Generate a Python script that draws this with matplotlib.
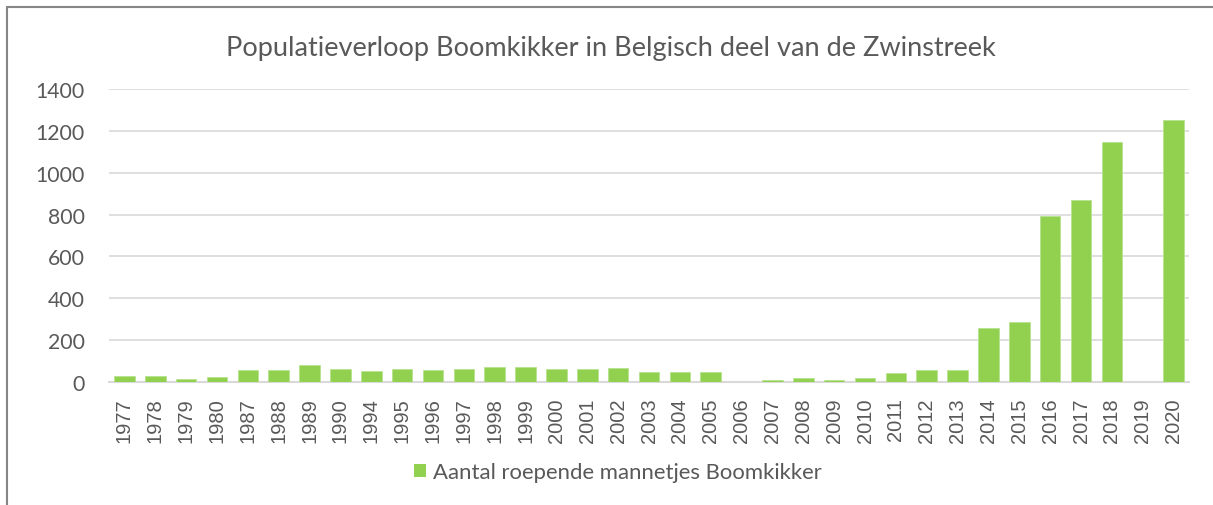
import matplotlib
matplotlib.use('Agg')

import matplotlib.pyplot as plt
import numpy as np
from matplotlib.patches import Rectangle, Patch

# data
years = ['1977', '1978', '1979', '1980', '1987', '1988', '1989', '1990',
         '1994', '1995', '1996', '1997', '1998', '1999', '2000', '2001',
         '2002', '2003', '2004', '2005', '2006', '2007', '2008', '2009',
         '2010', '2011', '2012', '2013', '2014', '2015', '2016', '2017',
         '2018', '2019', '2020']
males = [30, 30, 13, 22, 58, 58, 82, 64,
         53, 62, 59, 64, 70, 70, 61, 64,
         69, 50, 50, 50, 0, 11, 21, 11,
         21, 45, 59, 58, 258, 285, 792, 870,
         1147, 0, 1253]
yticks = [0, 200, 400, 600, 800, 1000, 1200, 1400]

title = 'Populatieverloop Boomkikker in Belgisch deel van de Zwinstreek'
series_name = 'Aantal roepende mannetjes Boomkikker'

green = '#92D050'
text_grey = '#595959'
grid_grey = '#D9D9D9'

plt.rcParams['font.family'] = ['Lato', 'DejaVu Sans']

W, H = 1213, 506
fig = plt.figure(figsize=(W / 100, H / 100), dpi=100)

# outer chart border (cut off at right/bottom like the screenshot)
fig.patches.append(Rectangle((7 / W, -0.2), 1.2, 1.2 - 8 / H,
                             transform=fig.transFigure, fill=False,
                             edgecolor='#868686', linewidth=1.5))

ax = fig.add_axes([109 / W, 1 - 383 / H, (1189 - 109) / W, (383 - 90) / H])

x = np.arange(len(years))
bars = ax.bar(x, males, width=0.67, color=green, edgecolor='#b8e290',
              linewidth=0.6, zorder=3)

ax.set_xlim(-0.5, len(years) - 0.5)
ax.set_ylim(0, 1400)
ax.set_yticks(yticks)
ax.set_yticklabels([str(t) for t in yticks])
ax.set_xticks(x)
ax.set_xticklabels(years, rotation=90, family=['Liberation Sans', 'DejaVu Sans'])

ax.tick_params(axis='y', length=0, pad=17.5, labelsize=15.3, labelcolor=text_grey)
ax.tick_params(axis='x', length=0, pad=11, labelsize=14.5, labelcolor=text_grey)

ax.grid(axis='y', color=grid_grey, linewidth=1.2, zorder=0)
for s in ['top', 'right', 'left']:
    ax.spines[s].set_visible(False)
ax.spines['bottom'].set_color(grid_grey)
ax.spines['bottom'].set_linewidth(1.5)

fig.text(611 / W, 1 - 56 / H, title, ha='center', va='baseline',
         fontsize=19.5, color=text_grey)

handle = Patch(facecolor=green, edgecolor='none')
fig.legend(handles=[handle], labels=[series_name], loc='center',
           bbox_to_anchor=(618 / W, 1 - 473 / H), frameon=False,
           fontsize=15.9, labelcolor=text_grey, handlelength=0.55,
           handleheight=0.55, handletextpad=0.3)

plt.savefig('out.png', dpi=100)
